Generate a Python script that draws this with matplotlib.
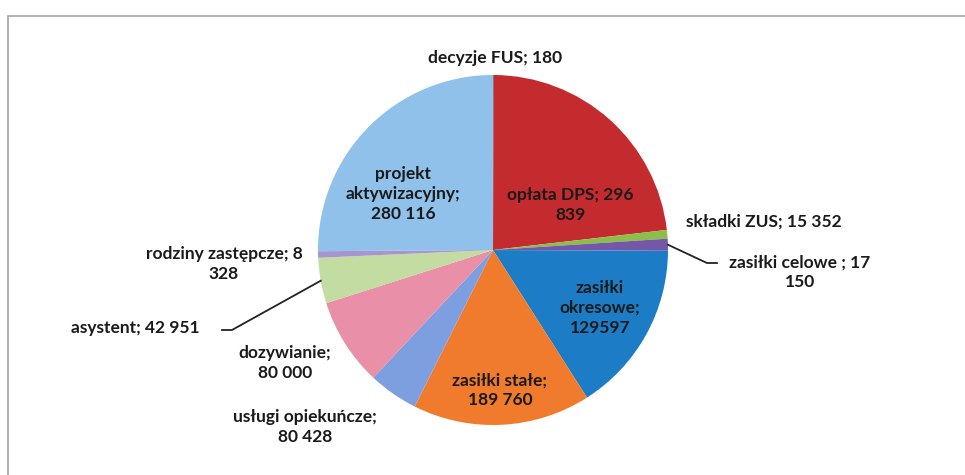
import matplotlib
matplotlib.use('Agg')
import matplotlib.pyplot as plt
from matplotlib.patches import Rectangle
import numpy as np

# categories in drawing order (clockwise from 12 o'clock)
categories = ['decyzje FUS', 'opłata DPS', 'składki ZUS', 'zasiłki celowe',
              'zasiłki okresowe', 'zasiłki stałe', 'usługi opiekuńcze',
              'dozywianie', 'asystent', 'rodziny zastępcze', 'projekt aktywizacyjny']
# data labels exactly as printed on the chart
label_texts = ['decyzje FUS; 180', 'opłata DPS; 296\n839', 'składki ZUS; 15 352',
               'zasiłki celowe ; 17\n150', 'zasiłki\nokresowe;\n129597',
               'zasiłki stałe;\n189 760', 'usługi opiekuńcze;\n80 428',
               'dozywianie;\n80 000', 'asystent; 42 951',
               'rodziny zastępcze; 8\n328', 'projekt\naktywizacyjny;\n280 116']
# slice sizes as drawn in the picture (% of circle)
shares = [0.06, 23.1, 0.8, 1.1, 15.9, 16.4, 4.6, 8.1, 4.2, 0.6, 25.1]

colors = ['#2F5597', '#C42B2E', '#8CBF4A', '#7457A6', '#1C7DC6', '#F07B2C',
          '#7E9FDF', '#E98FA8', '#C3DCA2', '#A894CF', '#8FC1EA']

W, H = 965, 475
cx, cy, r = 493, 250, 175      # pie centre / radius in pixels

def px(x, y):
    # pixel position -> pie axes data coords
    return (x - cx) / r, (cy - y) / r

fig = plt.figure(figsize=(W / 100, H / 100), dpi=100)
fig.patch.set_facecolor('white')

# chart frame (runs off the right and bottom edges)
fig.patches.append(Rectangle((8 / W, -0.05), 1.1, 1 - 16 / H + 0.05,
                             transform=fig.transFigure, fill=False,
                             edgecolor='#A5A5A5', linewidth=1.2))

ax = fig.add_axes([(cx - r - 200) / W, (H - cy - r - 200) / H, (2 * r + 400) / W, (2 * r + 400) / H])
lim = (2 * r + 400) / 2 / r

wedges, _ = ax.pie(shares, colors=colors, startangle=90, counterclock=False,
                   radius=1, center=(0, 0), frame=True,
                   wedgeprops=dict(linewidth=0))
ax.set_xlim(-lim, lim)
ax.set_ylim(-lim, lim)
ax.set_aspect('equal')
ax.axis('off')

label_pos = [(495, 58), (570, 205), (764, 222), (800, 272), (600, 308),
             (500, 390), (305, 427), (285, 363), (135, 328), (224, 264),
             (403, 194)]
font = dict(family=['Lato', 'DejaVu Sans'], fontsize=12.5, fontweight='bold',
            linespacing=1.3)
for txt, (x, y) in zip(label_texts, label_pos):
    ax.text(*px(x, y), txt, ha='center', va='center', color='#1A1A1A', **font)

def edge_point(w):
    a = np.deg2rad((w.theta1 + w.theta2) / 2)
    return np.cos(a), np.sin(a)

# leader lines
ex, ey = edge_point(wedges[categories.index('zasiłki celowe')])
p1, p2 = px(707, 263), px(717, 263)
ax.plot([ex, p1[0], p2[0]], [ey, p1[1], p2[1]], color='#222222', lw=1.3)

ex, ey = edge_point(wedges[categories.index('asystent')])
p1, p2 = px(232, 330), px(222, 330)
ax.plot([ex, p1[0], p2[0]], [ey, p1[1], p2[1]], color='#222222', lw=1.3)

fig.savefig('out.png', dpi=100, facecolor='white')
